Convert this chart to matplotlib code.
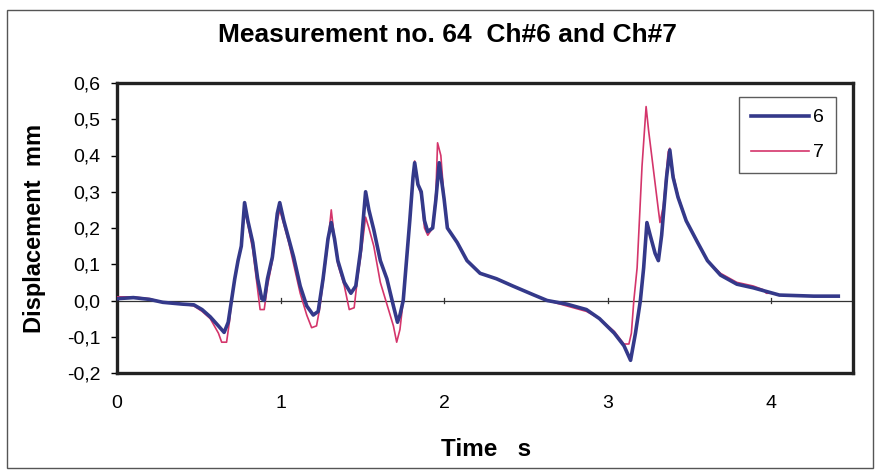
import matplotlib.pyplot as plt
from matplotlib.patches import Rectangle
from matplotlib.ticker import FuncFormatter

plt.rcParams['font.family'] = ['Liberation Sans', 'DejaVu Sans']

# Channel 6 (time s, displacement mm)
t6 = [0.00, 0.10, 0.20, 0.28, 0.40, 0.47, 0.52, 0.57, 0.62, 0.655, 0.68, 0.70, 0.72, 0.74,
      0.76, 0.78, 0.80, 0.83, 0.86, 0.885, 0.90, 0.92, 0.95, 0.98, 0.995, 1.02, 1.05, 1.08,
      1.12, 1.16, 1.20, 1.23, 1.26, 1.29, 1.31, 1.33, 1.35, 1.39, 1.43, 1.46, 1.49, 1.52,
      1.54, 1.57, 1.61, 1.65, 1.69, 1.715, 1.73, 1.75, 1.77, 1.79, 1.81, 1.82, 1.84, 1.86,
      1.88, 1.90, 1.93, 1.95, 1.97, 2.00, 2.02, 2.08, 2.14, 2.22, 2.32, 2.42, 2.55, 2.63,
      2.75, 2.87, 2.95, 3.04, 3.10, 3.14, 3.17, 3.20, 3.22, 3.24, 3.26, 3.29, 3.31, 3.33,
      3.36, 3.38, 3.40, 3.43, 3.48, 3.55, 3.61, 3.69, 3.79, 3.89, 3.97, 4.05, 4.26, 4.41]
v6 = [0.005, 0.008, 0.003, -0.005, -0.01, -0.012, -0.025, -0.045, -0.07, -0.088, -0.06, 0.0, 0.06, 0.11,
      0.15, 0.27, 0.22, 0.16, 0.06, 0.005, 0.0, 0.06, 0.12, 0.24, 0.27, 0.22, 0.17, 0.12,
      0.04, -0.015, -0.04, -0.03, 0.06, 0.17, 0.215, 0.17, 0.11, 0.05, 0.02, 0.04, 0.14, 0.30,
      0.25, 0.195, 0.11, 0.06, -0.015, -0.06, -0.04, 0.0, 0.11, 0.22, 0.34, 0.38, 0.32, 0.30,
      0.22, 0.19, 0.20, 0.28, 0.38, 0.28, 0.20, 0.16, 0.11, 0.075, 0.06, 0.04, 0.015, 0.0,
      -0.01, -0.025, -0.05, -0.09, -0.125, -0.165, -0.09, 0.0, 0.09, 0.215, 0.18, 0.13, 0.11, 0.18,
      0.34, 0.415, 0.34, 0.285, 0.22, 0.16, 0.11, 0.07, 0.045, 0.035, 0.025, 0.015, 0.012, 0.012]

# Channel 7
t7 = [0.00, 0.10, 0.20, 0.28, 0.40, 0.47, 0.52, 0.57, 0.62, 0.64, 0.67, 0.69, 0.70, 0.72,
      0.74, 0.76, 0.78, 0.80, 0.83, 0.86, 0.875, 0.90, 0.92, 0.95, 0.98, 0.995, 1.02, 1.05,
      1.08, 1.12, 1.16, 1.19, 1.22, 1.24, 1.26, 1.29, 1.31, 1.33, 1.35, 1.39, 1.42, 1.45,
      1.47, 1.49, 1.52, 1.54, 1.57, 1.61, 1.65, 1.69, 1.71, 1.73, 1.75, 1.77, 1.79, 1.81,
      1.82, 1.84, 1.86, 1.88, 1.90, 1.93, 1.95, 1.96, 1.98, 2.00, 2.02, 2.08, 2.14, 2.22,
      2.32, 2.42, 2.55, 2.63, 2.75, 2.87, 2.95, 3.04, 3.10, 3.13, 3.145, 3.16, 3.18, 3.21,
      3.235, 3.25, 3.28, 3.31, 3.32, 3.34, 3.37, 3.38, 3.40, 3.43, 3.48, 3.55, 3.61, 3.69,
      3.79, 3.89, 3.95, 3.97, 4.00, 4.05, 4.26, 4.41]
v7 = [0.01, 0.01, 0.005, -0.005, -0.01, -0.015, -0.03, -0.05, -0.09, -0.115, -0.115, -0.05, 0.0, 0.06,
      0.11, 0.15, 0.25, 0.21, 0.14, 0.03, -0.025, -0.025, 0.04, 0.11, 0.22, 0.25, 0.21, 0.16,
      0.10, 0.02, -0.04, -0.075, -0.07, -0.02, 0.05, 0.16, 0.25, 0.17, 0.10, 0.04, -0.025, -0.02,
      0.06, 0.12, 0.23, 0.20, 0.15, 0.05, -0.01, -0.07, -0.115, -0.08, 0.0, 0.11, 0.22, 0.34,
      0.385, 0.32, 0.29, 0.20, 0.18, 0.20, 0.30, 0.435, 0.40, 0.28, 0.20, 0.16, 0.11, 0.075,
      0.06, 0.04, 0.015, 0.0, -0.015, -0.03, -0.05, -0.085, -0.12, -0.12, -0.09, 0.0, 0.09, 0.37,
      0.535, 0.47, 0.36, 0.25, 0.215, 0.26, 0.41, 0.42, 0.35, 0.29, 0.22, 0.16, 0.11, 0.075,
      0.05, 0.04, 0.03, 0.02, 0.02, 0.015, 0.012, 0.012]

x_ticks = [0, 1, 2, 3, 4]
y_ticks = [-0.2, -0.1, 0.0, 0.1, 0.2, 0.3, 0.4, 0.5, 0.6]

fig = plt.figure(figsize=(8.75, 4.72), dpi=100)
fig.patch.set_facecolor('white')
fig.add_artist(Rectangle((7 / 875, 1 - 468 / 472), 866 / 875, 458 / 472,
                         transform=fig.transFigure, fill=False, edgecolor='#555555', lw=1))

ax = fig.add_axes([117 / 875, 1 - 373 / 472, 736 / 875, 290 / 472])
ax.plot(t7, v7, color='#D4356B', lw=1.2, zorder=3, label='7')
ax.plot(t6, v6, color='#34398A', lw=2.6, zorder=4, label='6')
ax.axhline(0, color='#333333', lw=0.9, zorder=2)
for xt in x_ticks[1:]:
    ax.plot([xt, xt], [-0.008, 0.008], color='#333333', lw=0.9, zorder=2)

ax.set_xlim(0, 4.5)
ax.set_ylim(-0.2, 0.6)
ax.set_xticks(x_ticks)
ax.set_yticks(y_ticks)
ax.yaxis.set_major_formatter(FuncFormatter(lambda v, p: f'{v:.1f}'.replace('.', ',')))
ax.tick_params(axis='y', direction='out', length=4, width=1, labelsize=14, pad=8)
ax.tick_params(axis='x', length=0, labelsize=14, pad=16)
for s in ax.spines.values():
    s.set_linewidth(2.4)
    s.set_color('#222222')

h, l = ax.get_legend_handles_labels()
leg = ax.legend([h[1], h[0]], [l[1], l[0]], loc='upper right', bbox_to_anchor=(0.99, 0.985),
                fontsize=14, frameon=True, fancybox=False, edgecolor='#333333',
                handlelength=3.0, handletextpad=0.2, labelspacing=0.9, borderpad=0.6)
leg.get_frame().set_linewidth(1)

fig.text(447 / 875, 1 - 35 / 472, 'Measurement no. 64  Ch#6 and Ch#7', ha='center', va='center',
         fontsize=19, fontweight='bold')
fig.text(486 / 875, 1 - 450 / 472, 'Time   s', ha='center', va='center', fontsize=17.5, fontweight='bold')
fig.text(35 / 875, 1 - 228 / 472, 'Displacement  mm', ha='center', va='center', rotation=90,
         fontsize=17, fontweight='bold')

fig.savefig('out.png', dpi=100)
